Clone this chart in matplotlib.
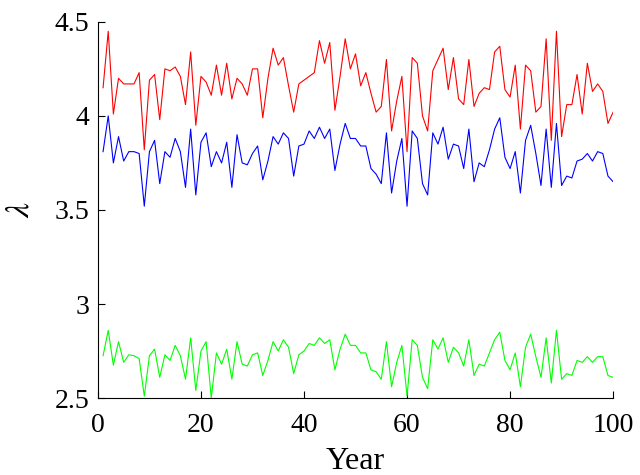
import numpy as np
import matplotlib
matplotlib.use("Agg")
import matplotlib.pyplot as plt

plt.rcParams["font.family"] = ["Liberation Serif", "DejaVu Serif"]
plt.rcParams["mathtext.fontset"] = "stix"

years = np.arange(1, 101)

red = [4.15, 4.45, 4.01, 4.20, 4.17, 4.17, 4.17, 4.23, 3.82, 4.19,
       4.22, 3.98, 4.25, 4.24, 4.26, 4.21, 4.06, 4.34, 3.95, 4.21,
       4.18, 4.11, 4.27, 4.11, 4.28, 4.09, 4.20, 4.17, 4.11, 4.25,
       4.25, 3.99, 4.20, 4.36, 4.27, 4.31, 4.16, 4.02, 4.17, 4.19,
       4.21, 4.23, 4.40, 4.28, 4.39, 4.03, 4.21, 4.41, 4.25, 4.33,
       4.16, 4.23, 4.12, 4.02, 4.05, 4.30, 3.92, 4.08, 4.21, 3.81,
       4.31, 4.28, 4.00, 3.92, 4.24, 4.30, 4.36, 4.14, 4.31, 4.09,
       4.06, 4.30, 4.05, 4.12, 4.15, 4.14, 4.34, 4.37, 4.14, 4.10,
       4.27, 3.93, 4.27, 4.24, 4.02, 4.05, 4.41, 3.87, 4.45, 3.89,
       4.06, 4.06, 4.22, 4.01, 4.28, 4.13, 4.17, 4.13, 3.96, 4.02]

blue = [3.81, 4.00, 3.75, 3.89, 3.76, 3.81, 3.81, 3.80, 3.52, 3.81,
        3.87, 3.64, 3.81, 3.78, 3.88, 3.81, 3.62, 3.93, 3.58, 3.86,
        3.91, 3.73, 3.81, 3.75, 3.86, 3.62, 3.90, 3.75, 3.74, 3.80,
        3.84, 3.66, 3.76, 3.89, 3.85, 3.91, 3.88, 3.68, 3.84, 3.85,
        3.92, 3.88, 3.94, 3.88, 3.93, 3.71, 3.85, 3.96, 3.88, 3.88,
        3.84, 3.84, 3.72, 3.69, 3.64, 3.91, 3.59, 3.76, 3.88, 3.52,
        3.92, 3.88, 3.64, 3.58, 3.91, 3.85, 3.94, 3.77, 3.85, 3.84,
        3.72, 3.93, 3.65, 3.75, 3.73, 3.82, 3.93, 3.99, 3.78, 3.72,
        3.81, 3.59, 3.87, 3.95, 3.80, 3.63, 3.93, 3.62, 3.96, 3.63,
        3.68, 3.67, 3.76, 3.77, 3.80, 3.76, 3.81, 3.80, 3.68, 3.65]

green = [2.725, 2.86, 2.675, 2.80, 2.69, 2.73, 2.725, 2.71, 2.51, 2.725,
         2.76, 2.61, 2.73, 2.70, 2.78, 2.725, 2.60, 2.82, 2.54, 2.75,
         2.80, 2.50, 2.74, 2.68, 2.76, 2.60, 2.80, 2.68, 2.67, 2.73,
         2.74, 2.62, 2.70, 2.80, 2.75, 2.81, 2.77, 2.63, 2.73, 2.75,
         2.79, 2.78, 2.82, 2.79, 2.81, 2.65, 2.76, 2.84, 2.78, 2.78,
         2.74, 2.74, 2.65, 2.64, 2.60, 2.80, 2.56, 2.69, 2.78, 2.51,
         2.81, 2.78, 2.61, 2.55, 2.81, 2.76, 2.82, 2.69, 2.77, 2.74,
         2.67, 2.81, 2.62, 2.68, 2.67, 2.74, 2.81, 2.85, 2.70, 2.65,
         2.74, 2.56, 2.77, 2.84, 2.72, 2.61, 2.82, 2.58, 2.86, 2.60,
         2.63, 2.62, 2.70, 2.69, 2.72, 2.69, 2.72, 2.72, 2.62, 2.61]

xticks = [0, 20, 40, 60, 80, 100]
yticks = [2.5, 3, 3.5, 4, 4.5]
ytick_labels = ["2.5", "3", "3.5", "4", "4.5"]

fig = plt.figure(figsize=(6.4, 4.75), dpi=100)
ax = fig.add_axes([0.153, 0.162, 0.805, 0.792])

ax.plot(years, red, color="#ff0000", lw=0.8)
ax.plot(years, blue, color="#0000ff", lw=0.8)
ax.plot(years, green, color="#00ff00", lw=0.8)

ax.set_xlim(0, 100)
ax.set_ylim(2.5, 4.5)
ax.set_xticks(xticks)
ax.set_xticklabels([str(t) for t in xticks])
ax.set_yticks(yticks)
ax.set_yticklabels(ytick_labels)

ax.spines["top"].set_visible(False)
ax.spines["right"].set_visible(False)
ax.tick_params(direction="in", labelsize=20, length=5)
ax.tick_params(axis="x", pad=11)
ax.tick_params(axis="y", pad=6)

ax.set_xlabel("Year", fontsize=23, labelpad=6)
ax.set_ylabel(r"$\lambda$", fontsize=24, labelpad=14)

fig.savefig("out.png", dpi=100)
